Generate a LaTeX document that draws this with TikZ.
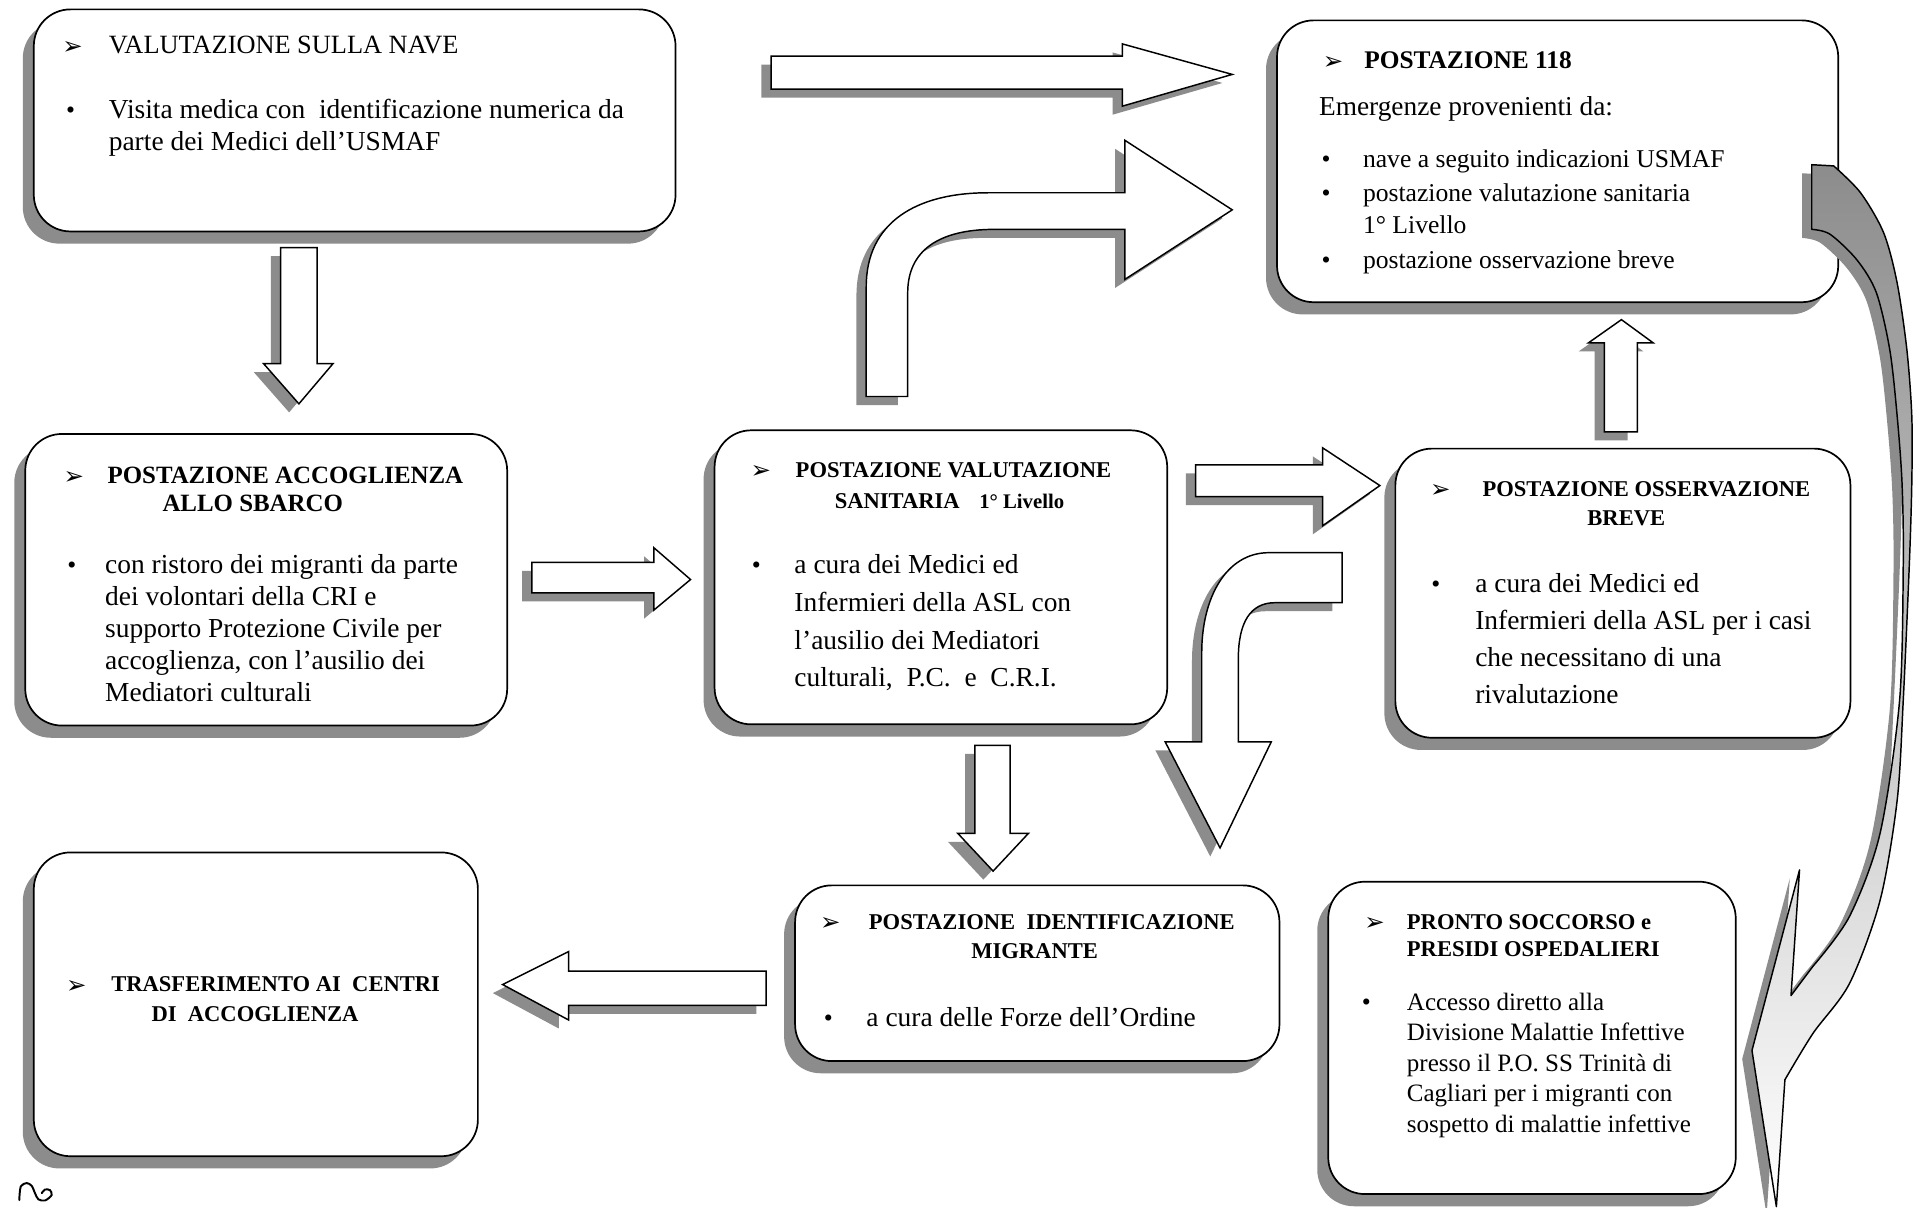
\documentclass[tikz,border=0pt]{standalone}
\usepackage{fontspec}
\setmainfont{Liberation Serif}
\newfontfamily\symfont{DejaVu Sans}
\usetikzlibrary{shadows}
\tikzset{
  box/.style={draw=black, line width=1.4pt, rounded corners=30pt, fill=white, inner sep=0pt, anchor=north west,
    drop shadow={shadow xshift=-9pt, shadow yshift=-10pt, fill=black!45, opacity=1}},
  blk/.style={draw=black, line width=1.2pt, fill=white, line join=miter,
    drop shadow={shadow xshift=-8pt, shadow yshift=-7pt, fill=black!45, opacity=1}},
  hd/.style={anchor=base west, inner sep=0pt, font=\fontsize{18.5}{22}\selectfont\bfseries},
  bd/.style={anchor=base west, inner sep=0pt},
  mk/.style={anchor=base west, inner sep=0pt, font=\symfont\fontsize{20}{20}\selectfont},
  bl/.style={anchor=base west, inner sep=0pt, font=\fontsize{21}{21}\selectfont},
}
\begin{document}
\begin{tikzpicture}[x=1pt,y=-1pt]
\useasboundingbox (0,0) rectangle (1568,990);
\fill[white] (0,0) rectangle (1568,990);

% boxes
\node[box, minimum width=526pt, minimum height=182pt] (nave) at (27,7) {};
\node[box, minimum width=460pt, minimum height=231pt] (p118) at (1046,16) {};
\node[box, minimum width=395pt, minimum height=239pt] (acc) at (20,355) {};
\node[box, minimum width=371pt, minimum height=241pt] (val) at (585,352) {};
\node[box, minimum width=373pt, minimum height=237pt] (oss) at (1143,367) {};
\node[box, minimum width=364pt, minimum height=249pt] (tra) at (27,698) {};
\node[box, minimum width=397pt, minimum height=144pt] (ide) at (651,725) {};
\node[box, minimum width=334pt, minimum height=256pt] (pso) at (1088,722) {};

% box A
\node[mk] (naveM) at (51,45) {➢};
\node[hd, font=\fontsize{21.6}{24}\selectfont] (naveH) at (89,44) {VALUTAZIONE SULLA NAVE};
\node[bl] (naveB) at (54,97) {•};
\node[bd, font=\fontsize{22.5}{26}\selectfont] (naveT) at (89,97) {\parbox[t]{460pt}{\raggedright Visita medica con\ \ identificazione numerica da\\parte dei Medici dell’USMAF}};

% box 118
\node[mk] (p118M) at (1084,57) {➢};
\node[hd, font=\fontsize{20.8}{24}\selectfont\bfseries] (p118H) at (1118,56) {POSTAZIONE 118};
\node[bd, font=\fontsize{22.4}{26}\selectfont] (p118E) at (1081,95) {Emergenze provenienti da:};
\node[bl] (p118B1) at (1083,137) {•};
\node[bl] (p118B2) at (1083,165) {•};
\node[bl] (p118B3) at (1083,220) {•};
\node[bd, font=\fontsize{21}{26}\selectfont] (p118T1) at (1117,137) {nave a seguito indicazioni USMAF};
\node[bd, font=\fontsize{21}{26}\selectfont] (p118T2) at (1117,165) {\parbox[t]{360pt}{\raggedright postazione valutazione sanitaria\\1° Livello}};
\node[bd, font=\fontsize{21}{26}\selectfont] (p118T3) at (1117,220) {postazione osservazione breve};

% box accoglienza
\node[mk] (accM) at (52,397) {➢};
\node[hd, font=\fontsize{20.4}{24}\selectfont\bfseries] (accH1) at (88,396) {POSTAZIONE ACCOGLIENZA};
\node[hd, font=\fontsize{20.4}{24}\selectfont\bfseries] (accH2) at (133,419) {ALLO SBARCO};
\node[bl] (accB) at (55,470) {•};
\node[bd, font=\fontsize{22.5}{26.3}\selectfont] (accT) at (86,470) {\parbox[t]{330pt}{\raggedright con ristoro dei migranti da parte\\dei volontari della CRI e\\supporto Protezione Civile per\\accoglienza, con l’ausilio dei\\Mediatori culturali}};

% box valutazione sanitaria
\node[mk] (valM) at (615,392) {➢};
\node[hd] (valH1) at (652,391) {POSTAZIONE VALUTAZIONE};
\node[hd] (valH2) at (684,417) {SANITARIA\hspace{16pt}{\fontsize{17}{20}\selectfont 1° Livello}};
\node[bl] (valB) at (616,470) {•};
\node[bd, font=\fontsize{22.5}{31}\selectfont] (valT) at (651,470) {\parbox[t]{300pt}{\raggedright a cura dei Medici ed\\Infermieri della ASL con\\l’ausilio dei Mediatori\\culturali,\ \ P.C.\ \ e\ \ C.R.I.}};

% box osservazione breve
\node[mk] (ossM) at (1172,408) {➢};
\node[hd] (ossH1) at (1215,407) {POSTAZIONE OSSERVAZIONE};
\node[hd, anchor=base] (ossH2) at (1333,431) {BREVE};
\node[bl] (ossB) at (1173,486) {•};
\node[bd, font=\fontsize{22.5}{30.3}\selectfont] (ossT) at (1209,486) {\parbox[t]{300pt}{\raggedright a cura dei Medici ed\\Infermieri della ASL per i casi\\che necessitano di una\\rivalutazione}};

% box trasferimento
\node[mk] (traM) at (54,814) {➢};
\node[hd] (traH1) at (91,813) {TRASFERIMENTO AI\ \ CENTRI};
\node[hd] (traH2) at (124,837) {DI\ \ ACCOGLIENZA};

% box identificazione
\node[mk] (ideM) at (672,763) {➢};
\node[hd] (ideH1) at (712,762) {POSTAZIONE\ \ IDENTIFICAZIONE};
\node[hd, anchor=base] (ideH2) at (848,786) {MIGRANTE};
\node[bl] (ideB) at (675,841) {•};
\node[bd, font=\fontsize{22.5}{26}\selectfont] (ideT) at (710,841) {a cura delle Forze dell’Ordine};

% box pronto soccorso
\node[mk] (psoM) at (1118,763) {➢};
\node[hd] (psoH1) at (1153,762) {PRONTO SOCCORSO e};
\node[hd] (psoH2) at (1153,784) {PRESIDI OSPEDALIERI};
\node[bl] (psoB) at (1116,828) {•};
\node[bd, font=\fontsize{20.5}{25}\selectfont] (psoT) at (1153,828) {\parbox[t]{260pt}{\raggedright Accesso diretto alla\\Divisione Malattie Infettive\\presso il P.O. SS Trinità di\\Cagliari per i migranti con\\sospetto di malattie infettive}};

% block arrows
\draw[blk] (632,46) -- (920,46) -- (920,36) -- (1010,61) -- (920,87) -- (920,73) -- (632,73) -- cycle;
\draw[blk] (710,325) -- (710,235) .. controls (710,183) and (750,158) .. (810,158) -- (922,158) -- (922,115) -- (1010,172) -- (922,229) -- (922,188) -- (815,188) .. controls (770,188) and (744,205) .. (744,240) -- (744,325) -- cycle;
\draw[blk] (230,203) -- (260,203) -- (260,298) -- (273,298) -- (245,331) -- (216,298) -- (230,298) -- cycle;
\draw[blk] (436,461) -- (536,461) -- (536,449) -- (566,475) -- (536,500) -- (536,486) -- (436,486) -- cycle;
\draw[blk] (980,381) -- (1084,381) -- (1084,367) -- (1131,398) -- (1084,431) -- (1084,407) -- (980,407) -- cycle;
\draw[blk] (1315,354) -- (1315,281) -- (1302,281) -- (1329,262) -- (1355,281) -- (1342,281) -- (1342,354) -- cycle;
\draw[blk] (799,611) -- (828,611) -- (828,683) -- (843,683) -- (814,714) -- (785,683) -- (799,683) -- cycle;
\draw[blk] (1100,453) -- (1040,453) .. controls (1005,453) and (985,490) .. (985,535) -- (985,608) -- (955,608) -- (1000,695) -- (1042,608) -- (1015,608) -- (1015,540) .. controls (1015,510) and (1025,494) .. (1045,494) -- (1100,494) -- cycle;
\draw[blk] (628,796) -- (466,796) -- (466,780) -- (412,807) -- (466,836) -- (466,824) -- (628,824) -- cycle;

% big curved ribbon arrow on the right
\draw[blk, line join=round, top color=black!45, middle color=white, bottom color=white] (1485,135) -- plot[smooth] coordinates {(1503,136) (1525,158) (1544,191) (1555,232) (1563,287) (1567,341) (1567,396) (1565,462) (1560,574) (1555,656) (1541,738) (1516,806) (1486,847) (1463,885)} -- (1456,989) -- (1436,861) -- (1475,713) -- (1468,816) -- plot[smooth] coordinates {(1486,792) (1516,751) (1541,683) (1557,574) (1560,462) (1559,396) (1555,341) (1549,287) (1538,240) (1522,213) (1500,192) (1485,188)} -- cycle;

% small handwritten mark
\draw[line width=1.6pt, line cap=round] plot[smooth] coordinates {(15.8,983.6) (17,972.5) (21.9,969.7) (26,972) (28.7,978) (31.4,983) (36.9,984) (42.3,979.6) (41,975.5) (36.9,975) (34.2,978)};
\end{tikzpicture}
\end{document}
